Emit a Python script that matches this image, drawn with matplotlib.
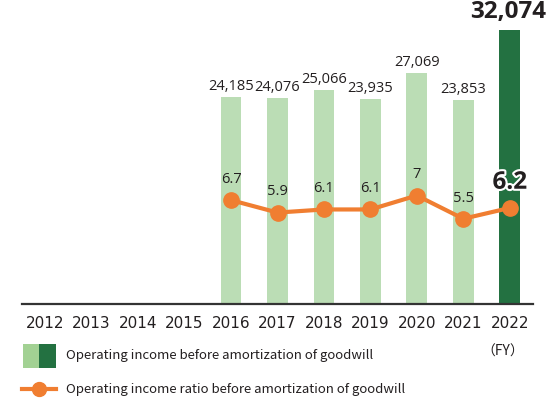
import matplotlib
matplotlib.use("Agg")
import matplotlib.pyplot as plt
import matplotlib.patheffects as pe
from matplotlib.patches import Rectangle
from matplotlib.lines import Line2D

plt.rcParams['font.family'] = ['Noto Sans CJK JP', 'DejaVu Sans']

years = ['2012', '2013', '2014', '2015', '2016', '2017', '2018', '2019', '2020', '2021', '2022']
income = [None, None, None, None, 24185, 24076, 25066, 23935, 27069, 23853, 32074]
ratio = [None, None, None, None, 6.7, 5.9, 6.1, 6.1, 7.0, 5.5, 6.2]
ratio_labels = ['6.7', '5.9', '6.1', '6.1', '7', '5.5', '6.2']

light_green = '#BBDDB5'
dark_green = '#237141'
orange = '#F07E31'
text_col = '#231F20'
num_font = ['Open Sans', 'DejaVu Sans']

W, H = 553, 401
fig = plt.figure(figsize=(W / 100, H / 100), dpi=100)
ax_l, ax_r, ax_b, ax_t = 22, 533, 304, 10
ax = fig.add_axes([ax_l / W, 1 - ax_b / H, (ax_r - ax_l) / W, (ax_b - ax_t) / H])
ax.set_xlim(-0.5, 10.5)
ax.set_ylim(0, 34400)

xs = list(range(len(years)))
last = len(years) - 1
for i, v in enumerate(income):
    if v is None:
        continue
    col = dark_green if i == last else light_green
    ax.bar(i, v, width=0.45, color=col, zorder=2)
    if i == last:
        ax.text(i - 0.04, v + 650, f"{v:,}", ha='center', va='bottom', fontsize=17.5,
                fontweight='bold', color=text_col, family=num_font)
    else:
        ax.text(i, v + 350, f"{v:,}", ha='center', va='bottom', fontsize=10.5,
                color=text_col, family=num_font)

for s in ['top', 'left', 'right']:
    ax.spines[s].set_visible(False)
ax.spines['bottom'].set_color('#333333')
ax.spines['bottom'].set_linewidth(1.6)
ax.spines['bottom'].set_zorder(5)
ax.set_yticks([])
ax.set_xticks(xs)
ax.set_xticklabels(years, fontsize=11, color=text_col, family=['DejaVu Sans'])
ax.tick_params(axis='x', length=0, pad=9)

ax2 = ax.twinx()
ax2.set_ylim(0, 18.97)
ax2.set_yticks([])
for s in ax2.spines.values():
    s.set_visible(False)
rx = [i for i, r in enumerate(ratio) if r is not None]
ry = [r for r in ratio if r is not None]
ax2.plot(rx, ry, color=orange, lw=3, marker='o', markersize=11, zorder=4)
for j, (x, y) in enumerate(zip(rx, ry)):
    if x == last:
        ax2.text(x, y + 0.85, ratio_labels[j], ha='center', va='bottom', fontsize=17.5,
                 fontweight='bold', color=text_col, family=num_font,
                 path_effects=[pe.withStroke(linewidth=3, foreground='white')])
    else:
        ax2.text(x, y + 0.85, ratio_labels[j], ha='center', va='bottom', fontsize=10.5,
                 color=text_col, family=num_font)

# legend
def px(x, y):
    return x / W, 1 - y / H

fig.patches.append(Rectangle(px(22.5, 368), 16.5 / W, 24 / H, transform=fig.transFigure,
                             color='#A2D193', lw=0))
fig.patches.append(Rectangle(px(39, 368), 17 / W, 24 / H, transform=fig.transFigure,
                             color=dark_green, lw=0))
fig.text(*px(66, 355), 'Operating income before amortization of goodwill',
         fontsize=9.5, color=text_col, va='center', ha='left')
fig.lines.append(Line2D([22 / W, 56 / W], [1 - 389 / H] * 2, transform=fig.transFigure,
                        color=orange, lw=3, marker=None))
fig.lines.append(Line2D([39 / W], [1 - 389 / H], transform=fig.transFigure,
                        color=orange, marker='o', markersize=10))
fig.text(*px(66, 389), 'Operating income ratio before amortization of goodwill',
         fontsize=9.5, color=text_col, va='center', ha='left')
fig.text(*px(503, 352), '（FY）', fontsize=10, color=text_col, va='center', ha='center')

fig.savefig('out.png', dpi=100)
